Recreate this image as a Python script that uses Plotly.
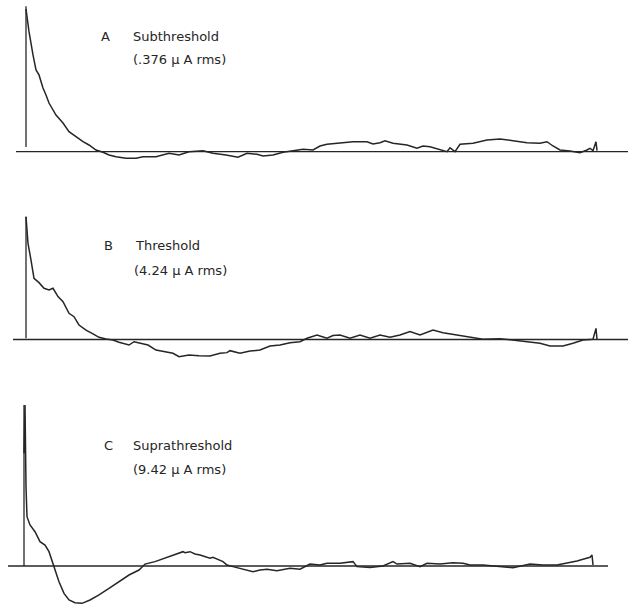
import plotly.graph_objects as go

# ---------------- data (lag in bins, amplitude in % of zero-lag peak) ----------------
lag_a = [0, 3, 7, 10, 13, 17, 20, 23, 30, 37, 43, 50, 57, 63, 70, 77, 83, 90, 100, 110,
         117, 130, 143, 153, 163, 177, 187, 200, 212, 221, 231, 237, 247, 257, 267, 277,
         287, 294, 301, 314, 327, 341, 347, 354, 359, 367, 381, 391, 397, 404, 414, 421,
         424, 429, 434, 447, 461, 474, 487, 501, 514, 521, 527, 534, 544, 554, 561, 564,
         567, 570, 571]
amp_a = [100, 84.1, 67.8, 57.3, 53.8, 44.6, 39.7, 34.1, 25.7, 20.1, 14.0, 10.5, 7.0, 4.7,
         1.2, -0.4, -2.3, -3.5, -4.6, -4.6, -3.5, -3.5, -1.1, -2.3, 0.0, 0.7, -1.1, -2.3,
         -3.9, -1.1, -1.8, -3.0, -2.3, -0.4, 0.5, 1.7, 1.2, 4.0, 5.2, 5.9, 7.0, 7.0, 5.4,
         6.3, 7.7, 5.9, 4.7, 2.4, 4.0, 3.5, 1.7, 0.0, 2.8, 0.0, 5.2, 5.9, 8.2, 8.9, 7.7,
         6.3, 5.9, 7.0, 4.0, 1.2, 0.5, -0.7, 1.2, 2.4, 0.7, 7.0, 0.7]

lag_b = [0, 2, 5, 8, 13, 18, 23, 27, 32, 37, 43, 48, 53, 60, 67, 73, 80, 87, 93, 103, 108,
         115, 122, 130, 140, 147, 153, 163, 173, 184, 194, 201, 204, 214, 224, 234, 244,
         254, 264, 274, 281, 291, 301, 307, 314, 324, 334, 344, 354, 364, 374, 384, 394,
         404, 407, 417, 431, 441, 457, 474, 487, 501, 514, 524, 537, 547, 557, 567, 570,
         571]
amp_b = [100, 78.3, 64.7, 49.8, 46.3, 41.7, 40.3, 41.7, 34.9, 30.8, 21.3, 18.6, 11.8, 7.7,
         4.5, 1.8, 0.4, -0.4, -2.3, -4.5, -1.8, -3.1, -4.5, -8.6, -9.9, -11.2, -14.0,
         -12.6, -13.2, -13.4, -11.2, -10.7, -9.1, -11.2, -9.4, -8.6, -5.3, -4.5, -2.6,
         -1.8, 1.0, 3.7, 1.0, 3.3, 3.7, 1.0, 3.7, 1.0, 3.7, 1.8, 3.7, 6.4, 3.7, 6.4, 7.7,
         5.5, 3.7, 1.8, 0.2, 0.7, -0.4, -1.8, -3.1, -5.3, -5.3, -3.1, -0.4, 0.2, 9.1, 0.2]

lag_c = [0, 1, 2, 3, 6, 11, 16, 21, 25, 28, 31, 35, 40, 45, 51, 58, 66, 75, 85, 95, 105,
         115, 121, 131, 141, 151, 159, 161, 166, 171, 176, 186, 189, 199, 203, 209, 216,
         219, 229, 236, 243, 253, 266, 276, 286, 296, 303, 316, 329, 333, 346, 359, 369,
         373, 386, 396, 403, 416, 429, 439, 446, 459, 473, 489, 506, 519, 533, 543, 553,
         559, 566, 568, 569]
amp_c = [70, 100, 49.3, 30.6, 25.5, 21.3, 15.1, 13.0, 8.9, 3.7, -2.5, -9.8, -17.0, -21.1,
         -22.8, -23.2, -21.1, -18.0, -13.9, -9.8, -5.6, -2.5, 1.2, 2.7, 4.8, 6.8, 8.9,
         8.3, 8.9, 7.5, 6.8, 4.8, 5.4, 2.7, 0.6, -0.4, -1.4, -2.0, -3.5, -2.5, -2.0, -2.9,
         -1.4, -2.0, 1.2, 0.6, 1.7, 1.7, 2.7, -0.4, -0.9, 0.0, 2.7, 1.2, 1.7, -0.4, 1.7,
         1.2, 2.0, 1.7, 0.6, 0.6, -0.4, -1.1, 1.2, 0.6, 0.6, 1.7, 3.1, 4.2, 5.4, 6.8, 0.6]

panel_letters = ["A", "B", "C"]
panel_titles = ["Subthreshold", "Threshold", "Suprathreshold"]
panel_currents = ["(.376 \u03bc A rms)", "(4.24 \u03bc A rms)", "(9.42 \u03bc A rms)"]

# baseline extents (lag) and vertical-axis top/bottom (% of peak) per panel
base_from = [-10, -13, -16]
base_to = [602, 602, 584]
vline_bottom = [3.3, 1.0, 0.0]
vline_top = [102, 100, 100]

# ---------------- layout geometry ----------------
W, H = 628, 609
ink = "#262626"

# pixel anchors: (x pixel of lag 0, baseline y pixel, peak y pixel)
anchors = [(26, 151.7, 9.0), (26, 339.5, 216.7), (24, 566.0, 405.0)]


def yrange(base, peak):
    span = base - peak
    return [(base - H) * 100.0 / span, base * 100.0 / span]


fig = go.Figure()

lags = [lag_a, lag_b, lag_c]
amps = [amp_a, amp_b, amp_c]
xref = ["x", "x", "x2"]
yref = ["y", "y2", "y3"]

for i in range(3):
    # baseline
    fig.add_trace(go.Scatter(x=[base_from[i], base_to[i]], y=[0, 0], mode="lines",
                             line=dict(color=ink, width=1.3), xaxis=xref[i], yaxis=yref[i],
                             hoverinfo="skip", showlegend=False))
    # vertical zero-lag line
    fig.add_trace(go.Scatter(x=[0, 0], y=[vline_bottom[i], vline_top[i]], mode="lines",
                             line=dict(color=ink, width=1.3), xaxis=xref[i], yaxis=yref[i],
                             hoverinfo="skip", showlegend=False))
    # trace
    fig.add_trace(go.Scatter(x=lags[i], y=amps[i], mode="lines",
                             line=dict(color=ink, width=1.5), xaxis=xref[i], yaxis=yref[i],
                             name=panel_titles[i], showlegend=False))

hid = dict(visible=False, showgrid=False, zeroline=False, fixedrange=True)
fig.update_layout(
    width=W, height=H,
    margin=dict(l=0, r=0, t=0, b=0),
    paper_bgcolor="white", plot_bgcolor="white",
    showlegend=False,
    xaxis=dict(range=[-anchors[0][0], W - anchors[0][0]], domain=[0, 1], **hid),
    xaxis2=dict(range=[-anchors[2][0], W - anchors[2][0]], domain=[0, 1],
                overlaying="x", **hid),
    yaxis=dict(range=yrange(anchors[0][1], anchors[0][2]), domain=[0, 1], **hid),
    yaxis2=dict(range=yrange(anchors[1][1], anchors[1][2]), domain=[0, 1],
                overlaying="y", anchor="x", **hid),
    yaxis3=dict(range=yrange(anchors[2][1], anchors[2][2]), domain=[0, 1],
                overlaying="y", anchor="x2", **hid),
)

# labels (pixel positions -> paper coords)
label_pos = [((99, 36), (131, 36), (131, 60)),
             ((102, 245), (133, 245), (132, 270)),
             ((102, 445), (131, 445), (131, 470))]
font = dict(family="DejaVu Sans, Verdana, sans-serif", size=13, color=ink)
for i in range(3):
    texts = [panel_letters[i], panel_titles[i], panel_currents[i]]
    for (px, py), t in zip(label_pos[i], texts):
        fig.add_annotation(x=px / W, y=1 - py / H, xref="paper", yref="paper",
                           text=t, showarrow=False, xanchor="left", yanchor="middle",
                           font=font)

fig.write_html("out.html")
